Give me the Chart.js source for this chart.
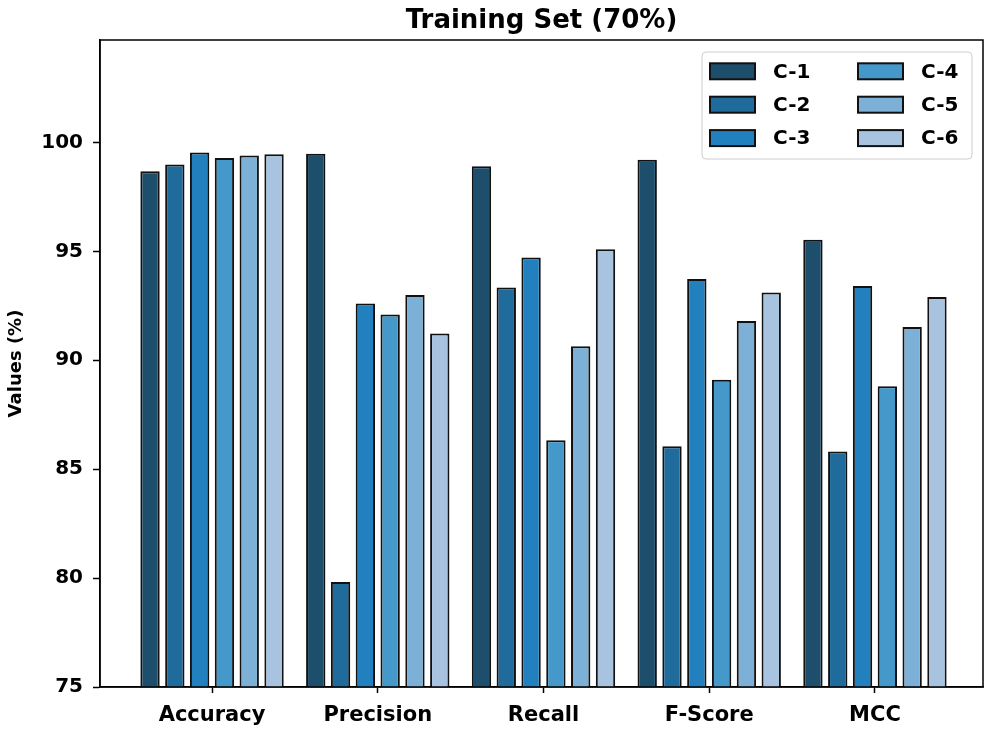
<!DOCTYPE html>
<html lang="en">
<head>
    <meta charset="UTF-8">
    <title>Training Set (70%)</title>
    <script src="https://cdn.jsdelivr.net/npm/chart.js"></script>
    <style>
        body { margin: 0; background: #fff; }
    </style>
</head>
<body>
    <canvas id="barChart" width="991" height="730"></canvas>

    <script>
        const categories = ['Accuracy', 'Precision', 'Recall', 'F-Score', 'MCC'];
        const seriesNames = ['C-1', 'C-2', 'C-3', 'C-4', 'C-5', 'C-6'];
        const c1 = [98.67, 99.48, 98.90, 99.20, 95.53];
        const c2 = [98.98, 79.82, 93.34, 86.05, 85.81];
        const c3 = [99.54, 92.60, 94.72, 93.73, 93.41];
        const c4 = [99.28, 92.10, 86.33, 89.10, 88.81];
        const c5 = [99.40, 92.99, 90.64, 91.80, 91.52];
        const c6 = [99.46, 91.23, 95.09, 93.11, 92.90];
        const yTicks = [75, 80, 85, 90, 95, 100];

        const colors = ['#1d4e6c', '#1f6b9c', '#2280be', '#4598ca', '#7db0d7', '#a8c3e0'];
        const allSeries = [c1, c2, c3, c4, c5, c6];
        const FONT = "'DejaVu Sans', sans-serif";

        // frame round the plot, the title and a two-column legend
        const extras = {
            id: 'extras',
            afterDraw(chart) {
                const ctx = chart.ctx;
                const a = chart.chartArea;
                ctx.save();
                ctx.strokeStyle = '#000';
                ctx.lineWidth = 1.5;
                ctx.strokeRect(a.left, a.top, a.right - a.left, a.bottom - a.top);

                ctx.fillStyle = '#000';
                ctx.font = 'bold 26px ' + FONT;
                ctx.textAlign = 'center';
                ctx.textBaseline = 'alphabetic';
                ctx.fillText('Training Set (70%)', (a.left + a.right) / 2, 28);

                // legend box
                const bx = 702, by = 52, bw = 270, bh = 107;
                ctx.beginPath();
                ctx.roundRect(bx, by, bw, bh, 4);
                ctx.fillStyle = 'rgba(255,255,255,0.8)';
                ctx.fill();
                ctx.strokeStyle = '#cccccc';
                ctx.lineWidth = 1;
                ctx.stroke();

                ctx.font = 'bold 20px ' + FONT;
                ctx.textAlign = 'left';
                ctx.textBaseline = 'middle';
                chart.data.datasets.forEach((ds, i) => {
                    const col = Math.floor(i / 3);
                    const row = i % 3;
                    const sx = col === 0 ? 710 : 858;
                    const cy = 71.3 + row * 33.4;
                    ctx.fillStyle = ds.backgroundColor;
                    ctx.fillRect(sx, cy - 8, 45, 16);
                    ctx.strokeStyle = '#111';
                    ctx.lineWidth = 2;
                    ctx.strokeRect(sx, cy - 8, 45, 16);
                    ctx.fillStyle = '#000';
                    ctx.fillText(ds.label, sx + 63, cy + 1);
                });
                ctx.restore();
            }
        };

        const ctx = document.getElementById('barChart').getContext('2d');
        const barChart = new Chart(ctx, {
            type: 'bar',
            data: {
                datasets: seriesNames.map((name, k) => ({
                    label: name,
                    data: categories.map((c, i) => ({ x: i, y: allSeries[k][i] })),
                    backgroundColor: colors[k],
                    borderColor: '#111',
                    borderWidth: 2,
                    categoryPercentage: 0.898,
                    barPercentage: 0.78
                }))
            },
            options: {
                responsive: false,
                animation: false,
                devicePixelRatio: 1,
                layout: { padding: { top: 40, right: 8, left: 0, bottom: 0 } },
                plugins: {
                    legend: { display: false },
                    title: { display: false },
                    tooltip: { enabled: false }
                },
                scales: {
                    x: {
                        type: 'linear',
                        offset: false,
                        min: -0.676,
                        max: 4.652,
                        afterFit: scale => { scale.height = 43; },
                        afterBuildTicks: scale => {
                            scale.ticks = categories.map((c, i) => ({ value: i }));
                        },
                        ticks: {
                            autoSkip: false,
                            maxRotation: 0,
                            padding: 10,
                            color: '#000',
                            font: { family: FONT, size: 21, weight: 'bold' },
                            callback: v => categories[v]
                        },
                        grid: {
                            offset: false,
                            drawOnChartArea: false,
                            tickLength: 6,
                            tickWidth: 1.5,
                            tickColor: '#000'
                        },
                        border: { display: true, color: '#000', width: 1.5 }
                    },
                    y: {
                        min: 75,
                        max: 104.7,
                        afterFit: scale => { scale.width = 100; },
                        afterBuildTicks: scale => {
                            scale.ticks = yTicks.map(v => ({ value: v }));
                        },
                        ticks: {
                            padding: 10,
                            color: '#000',
                            font: { family: FONT, size: 20, weight: 'bold' }
                        },
                        grid: {
                            drawOnChartArea: false,
                            tickLength: 7,
                            tickWidth: 1.5,
                            tickColor: '#000'
                        },
                        border: { display: true, color: '#000', width: 1.5 },
                        title: {
                            display: true,
                            text: 'Values (%)',
                            color: '#000',
                            font: { family: FONT, size: 18, weight: 'bold' },
                            padding: { top: 6, bottom: 0 }
                        }
                    }
                }
            },
            plugins: [extras]
        });
    </script>
</body>
</html>
